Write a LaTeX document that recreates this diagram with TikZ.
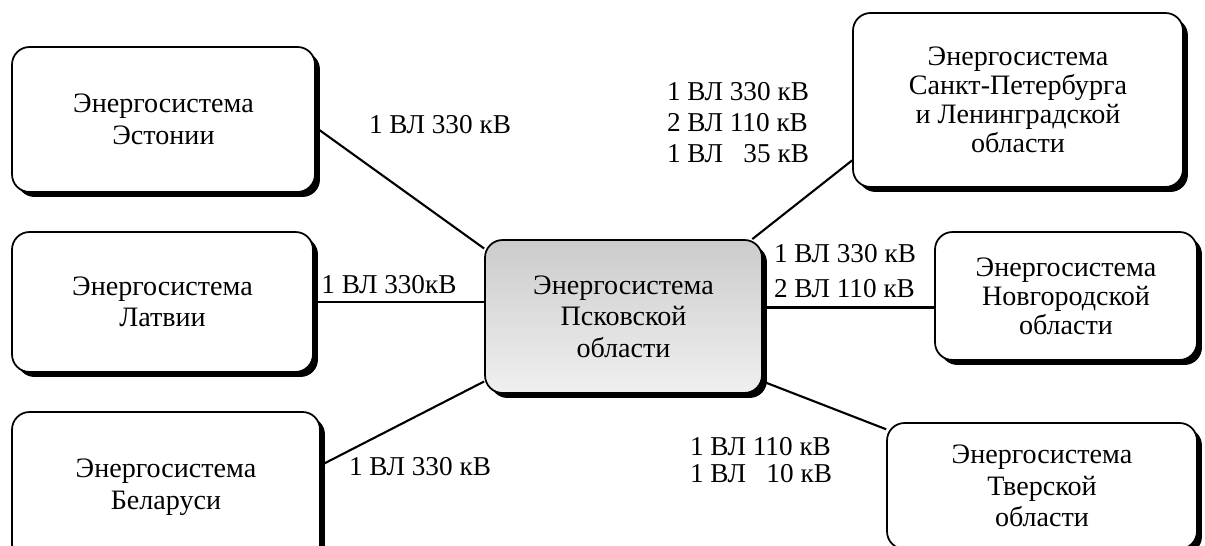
\documentclass[tikz,border=0pt]{standalone}
\usepackage{fontspec}
\setmainfont{Liberation Serif}
\usetikzlibrary{shadows}

\begin{document}
\begin{tikzpicture}[x=0.02cm, y=-0.02cm,
    system/.style = {rectangle, rounded corners=0.35cm, draw=black, line width=1pt,
                     fill=white, align=center, font=\fontsize{16}{18}\selectfont,
                     drop shadow={shadow xshift=0.1cm, shadow yshift=-0.1cm,
                                  opacity=1, fill=black}},
    home/.style = {system, top color=gray!40, bottom color=gray!12},
    vlabel/.style = {align=left, font=\fontsize{15.5}{17.5}\selectfont},
    tie/.style = {draw, line width=1.2pt}]
  \useasboundingbox (0,0) rectangle (1205,546);

  % energy systems
  \node (psk) [home, minimum width=5.54cm, minimum height=3.06cm] at (623.5,316.5)
        {Энергосистема\\Псковской\\области};
  \node (est) [system, minimum width=6.06cm, minimum height=2.9cm] at (163.5,119.5)
        {Энергосистема\\Эстонии};
  \node (lat) [system, minimum width=6.02cm, minimum height=2.8cm] at (162.5,302)
        {Энергосистема\\Латвии};
  \node (bel) [system, minimum width=6.16cm, minimum height=3cm] at (166,487)
        {Энергосистема\\Беларуси};
  \node (spb) [system, minimum width=6.6cm, minimum height=3.48cm,
               font=\fontsize{16}{16.5}\selectfont] at (1018,100)
        {Энергосистема\\Санкт-Петербурга\\и Ленинградской\\области};
  \node (nov) [system, minimum width=5.24cm, minimum height=2.56cm,
               font=\fontsize{16}{16.5}\selectfont] at (1066,296)
        {Энергосистема\\Новгородской\\области};
  \node (tver) [system, minimum width=6.2cm, minimum height=2.52cm] at (1042,486)
        {Энергосистема\\Тверской\\области};

  % lines
  \path[tie]
    (est.-3) edge (psk.154)
    (lat.east) edge (lat.east -| psk.west)
    (bel.8) edge (psk.205)
    (psk.31) edge (spb.200)
    (nov.185) edge (nov.185 -| psk.east)
    (psk.-25) edge (tver.160);

  % line labels
  \node (vl-est) [vlabel] at (440,125) {1 ВЛ 330 кВ};
  \node (vl-lat) [vlabel] at (389,285) {1 ВЛ 330кВ};
  \node (vl-bel) [vlabel] at (420,467) {1 ВЛ 330 кВ};
  \node (vl-spb) [vlabel, font=\fontsize{15.5}{17.6}\selectfont] at (738,123)
        {1 ВЛ 330 кВ\\2 ВЛ 110 кВ\\1 ВЛ \hphantom{0}35 кВ};
  \node (vl-nov) [vlabel, font=\fontsize{15.5}{19.9}\selectfont] at (845,271)
        {1 ВЛ 330 кВ\\2 ВЛ 110 кВ};
  \node (vl-tver) [vlabel, font=\fontsize{15.5}{15.5}\selectfont] at (761,460)
        {1 ВЛ 110 кВ\\1 ВЛ \hphantom{1}10 кВ};
\end{tikzpicture}
\end{document}
